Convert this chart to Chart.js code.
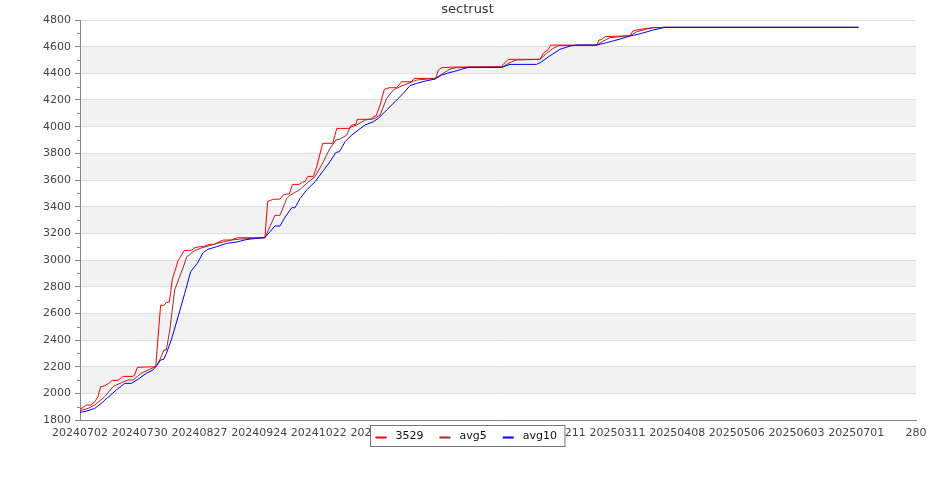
<!DOCTYPE html>
<html>
<head>
<meta charset="utf-8">
<script src="https://cdn.jsdelivr.net/npm/chart.js@4.4.1/dist/chart.umd.min.js"></script>
<style>
  html, body { margin: 0; padding: 0; background: #fff; }
  canvas { display: block; }
</style>
</head>
<body>
<canvas id="c" width="935" height="500"></canvas>
<script>
// ---- data (x = days since 20240702) ----
const chartTitle = 'sectrust';
const seriesNames = ['3529', 'avg5', 'avg10'];
const xTickLabels = ['20240702','20240730','20240827','20240924','20241022','20241119','20241217',
  '20250114','20250211','20250311','20250408','20250506','20250603','20250701','280'];
const yMin = 1800, yMax = 4800;

const s3529 = [
  [0,1880],[2,1900],[3,1912],[5,1912],[7,1937],[8.4,1975],[9.7,2050],[11.6,2057],[13.5,2075],
  [15.1,2097],[17.8,2097],[19.5,2120],[20.5,2127],[24.5,2127],[25.5,2135],[26.9,2195],[35.5,2200],
  [37.8,2660],[39.4,2660],[40.5,2682],[41.9,2685],[43.3,2855],[44.4,2912],[46,2995],[46.7,3012],
  [48.8,3070],[52.4,3075],[53.9,3092],[55.9,3100],[57.8,3100],[60.5,3117],[62.8,3117],[67.2,3150],
  [71,3150],[73.8,3167],[86.7,3167],[88,3440],[90.6,3455],[93.8,3457],[95.3,3487],[96.9,3495],
  [98.1,3495],[99.7,3567],[102.8,3567],[104.4,3585],[105.5,3587],[106.8,3627],[109.4,3627],
  [111,3700],[113.8,3875],[118.5,3875],[120.4,3987],[126.1,3987],[127.4,4012],[129.4,4017],
  [130,4055],[136.8,4055],[137.9,4080],[138.8,4080],[140.7,4162],[142.7,4280],[145,4292],
  [148.5,4292],[150.8,4337],[155.5,4337],[156.6,4362],[166.8,4362],[168,4425],[169.6,4442],
  [175,4447],[197.7,4450],[198.5,4467],[200.8,4505],[215.7,4505],[217.2,4550],[219.6,4580],
  [220.7,4612],[242.3,4612],[243.4,4650],[244.6,4655],[246.2,4675],[257.9,4682],[259.2,4717],
  [261,4725],[265.7,4737],[268.8,4742],[274.3,4745],[365,4745]
];
const sAvg5 = [
  [0,1870],[3.75,1887],[6.9,1912],[11.6,1975],[15.5,2050],[19.4,2080],[22.5,2100],[24.9,2100],
  [28.7,2150],[31.9,2175],[35.5,2200],[37.4,2250],[39.4,2325],[40.5,2325],[42.1,2475],[44.4,2775],
  [46.7,2875],[48.8,2962],[50,3025],[51.4,3037],[52.4,3057],[53.8,3070],[56.3,3087],[60.2,3105],
  [65.6,3130],[71.1,3150],[75,3157],[86.7,3167],[91.4,3335],[93.8,3335],[96.9,3460],[98.5,3487],
  [99.7,3495],[100.8,3507],[103.2,3530],[106.3,3575],[110.2,3625],[113.3,3712],[117.2,3837],
  [120,3900],[121.9,3907],[125.1,3937],[126.6,3995],[129.7,4012],[133.6,4050],[138.3,4062],
  [140.7,4087],[143.8,4212],[146.9,4275],[150,4300],[154.7,4330],[157.9,4350],[166.5,4362],
  [170.3,4400],[173.5,4432],[176.6,4442],[182.1,4445],[197.7,4445],[202.4,4487],[204.8,4500],
  [215.7,4505],[218.8,4550],[221.9,4587],[224.3,4607],[242.3,4612],[245.4,4642],[248.5,4667],
  [257.9,4682],[261,4712],[265.7,4732],[268.8,4742],[274.3,4745],[365,4745]
];
const sAvg10 = [
  [0,1857],[3.75,1870],[6.9,1887],[10,1925],[13.1,1970],[17,2025],[21,2075],[24.1,2075],
  [27.2,2105],[31.1,2150],[34.2,2175],[36.1,2210],[37.8,2250],[39.4,2257],[40.5,2300],[42.8,2400],
  [46,2575],[49.1,2750],[51.9,2912],[55,2975],[57.7,3055],[60,3080],[64.1,3100],[68.8,3125],
  [73.5,3135],[77.2,3150],[79.7,3157],[86.7,3168],[91.4,3255],[93.8,3255],[96.1,3320],[99.3,3392],
  [100.8,3392],[103.2,3462],[106.3,3525],[110.2,3587],[114.1,3670],[117.2,3737],[120,3807],
  [121.6,3812],[124.3,3887],[127.4,3937],[130.5,3975],[133.6,4012],[137.5,4037],[139.9,4062],
  [143.8,4125],[147.7,4187],[151.6,4250],[154.7,4307],[157.9,4325],[162.6,4345],[166.5,4357],
  [169.6,4387],[173.5,4407],[175,4412],[182.1,4445],[197.7,4445],[201.6,4467],[214.1,4467],
  [216.5,4487],[220.4,4532],[225.1,4580],[229.8,4605],[232.9,4612],[242.3,4612],[247,4630],
  [253.2,4657],[257.9,4680],[263.4,4700],[268.8,4725],[274.3,4745],[365,4745]
];

// ---- chart ----
const FONT = "'DejaVu Sans', sans-serif";
const toXY = arr => arr.map(p => ({x: p[0], y: p[1]}));
const colors = ['#ff0000', '#a52a2a', '#0000ff'];

const deco = {
  id: 'deco',
  beforeDraw(chart) {
    const {ctx, chartArea: a, scales: {y}} = chart;
    ctx.save();
    ctx.fillStyle = '#ffffff';
    ctx.fillRect(0, 0, chart.width, chart.height);
    ctx.fillStyle = '#f2f2f2';
    for (let v = yMin + 200; v < yMax; v += 400) {
      const y1 = y.getPixelForValue(v), y2 = y.getPixelForValue(v + 200);
      ctx.fillRect(a.left, y2, a.right - a.left, y1 - y2);
    }
    ctx.restore();
  },
  afterDraw(chart) {
    const {ctx, chartArea: a, scales: {y}} = chart;
    ctx.save();
    // minor ticks
    ctx.strokeStyle = '#888888';
    ctx.lineWidth = 1;
    ctx.beginPath();
    for (let v = yMin + 100; v < yMax; v += 200) {
      const py = Math.round(y.getPixelForValue(v)) + 0.5;
      ctx.moveTo(a.left - 3, py); ctx.lineTo(a.left, py);
    }
    ctx.stroke();
    // title
    ctx.fillStyle = '#333333';
    ctx.font = '13px ' + FONT;
    ctx.textAlign = 'center';
    ctx.textBaseline = 'middle';
    ctx.fillText(chartTitle, chart.width / 2, 10);
    // legend
    ctx.font = '11px ' + FONT;
    const padL = 5, mark = 11, gapMT = 9, gapItem = 16, padR = 8;
    const ds = chart.data.datasets;
    const tw = ds.map(d => ctx.measureText(d.label).width);
    let total = padL + padR + gapItem * (ds.length - 1);
    tw.forEach(w => total += mark + gapMT + w);
    const bx = Math.round(chart.width / 2 - total / 2) + 0.5;
    const by = 425.5, bh = 21;
    ctx.fillStyle = '#ffffff';
    ctx.fillRect(bx, by, total, bh);
    ctx.strokeStyle = '#777777';
    ctx.strokeRect(bx, by, total, bh);
    let x = bx + padL;
    ctx.textAlign = 'left';
    ds.forEach((d, i) => {
      ctx.strokeStyle = d.borderColor;
      ctx.lineWidth = 2;
      ctx.beginPath();
      ctx.moveTo(x, by + 12); ctx.lineTo(x + mark, by + 12);
      ctx.stroke();
      x += mark + gapMT;
      ctx.fillStyle = '#111111';
      ctx.fillText(d.label, x, by + 11);
      x += tw[i] + gapItem;
    });
    ctx.restore();
  }
};

new Chart(document.getElementById('c'), {
  type: 'line',
  data: {
    datasets: [
      {label: seriesNames[0], data: toXY(s3529), borderColor: colors[0], order: 3},
      {label: seriesNames[1], data: toXY(sAvg5), borderColor: colors[1], order: 2},
      {label: seriesNames[2], data: toXY(sAvg10), borderColor: colors[2], order: 1}
    ].map(d => Object.assign(d, {borderWidth: 1, pointRadius: 0, tension: 0, fill: false}))
  },
  options: {
    responsive: false,
    animation: false,
    layout: {padding: {top: 20, right: 19, bottom: 0, left: 0}},
    plugins: {legend: {display: false}, title: {display: false}, tooltip: {enabled: false}},
    scales: {
      x: {
        type: 'linear', min: 0, max: 392,
        afterFit: s => { s.height = 80; },
        afterBuildTicks: s => { s.ticks = xTickLabels.map((_, i) => ({value: i * 28})); },
        ticks: {
          autoSkip: false, maxRotation: 0, padding: 7, color: '#444444',
          font: {family: FONT, size: 11},
          callback: (v) => xTickLabels[Math.round(v / 28)]
        },
        grid: {display: false, drawTicks: false},
        border: {display: true, color: '#888888', width: 1}
      },
      y: {
        type: 'linear', min: yMin, max: yMax,
        afterFit: s => { s.width = 80; },
        ticks: {stepSize: 200, padding: 4, color: '#444444', font: {family: FONT, size: 11},
          callback: (v) => String(v)},
        grid: {color: '#dddddd', tickColor: '#888888', tickLength: 5, drawTicks: true},
        border: {display: true, color: '#888888', width: 1}
      }
    }
  },
  plugins: [deco]
});
</script>
</body>
</html>
